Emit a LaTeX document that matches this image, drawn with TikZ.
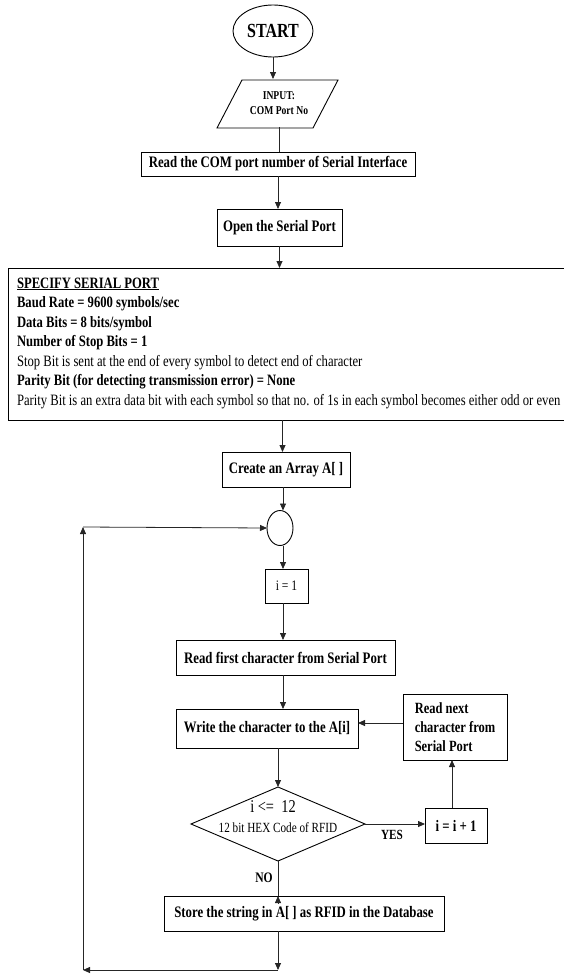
\documentclass[tikz,border=0pt]{standalone}
\usepackage{fontspec}
\setmainfont{Liberation Serif}[FakeStretch=0.8]
\usetikzlibrary{shapes.geometric,arrows.meta}
\begin{document}
\begin{tikzpicture}[x=1pt,y=-1pt,
  every node/.style={inner sep=0pt,outer sep=0pt},
  box/.style={draw,line width=0.9pt,rectangle,font=\fontsize{16}{19}\selectfont\bfseries},
  conn/.style={line width=0.8pt,draw=black!85},
  arr/.style={conn,-{Triangle[length=7pt,width=6pt]}},
  ln/.style={anchor=base west,font=\fontsize{15.8}{18}\selectfont},
  lnb/.style={ln,font=\fontsize{15.8}{18}\selectfont\bfseries}]
\useasboundingbox (0,0) rectangle (564,974);
% start
\node[ellipse,draw,line width=0.9pt,minimum width=80,minimum height=52,font=\fontsize{20}{22}\selectfont\bfseries] (start) at (273,31) {START};
% input parallelogram
\draw[line width=0.9pt] (242,80) -- (338,80) -- (313,128) -- (217,128) -- cycle;
\node[minimum height=48,minimum width=96,align=center,font=\fontsize{12}{15}\selectfont\bfseries] (input) at (279,103) {INPUT:\\COM Port No};
\node[box,minimum width=274,minimum height=24] (read) at (278,164) {Read the COM port number of Serial Interface};
\node[box,minimum width=125,minimum height=37] (open) at (279.5,227.5) {Open the Serial Port};
% spec box
\node[draw,line width=0.9pt,rectangle,minimum width=580,minimum height=152,anchor=north west] (spec) at (8,268) {};
\node[lnb] (s1) at (17,288) {\underline{SPECIFY SERIAL PORT}};
\node[lnb] (s2) at (17,307.5) {Baud Rate = 9600 symbols/sec};
\node[lnb] (s3) at (17,327) {Data Bits = 8 bits/symbol};
\node[lnb] (s4) at (17,346.5) {Number of Stop Bits = 1};
\node[ln] (s5) at (17,366) {Stop Bit is sent at the end of every symbol to detect end of character};
\node[lnb] (s6) at (17,385.5) {Parity Bit (for detecting transmission error) = None};
\node[ln] (s7) at (17,405) {Parity Bit is an extra data bit with each symbol so that no. of 1s in each symbol becomes either odd or even};
\node[box,minimum width=128,minimum height=35] (create) at (286,469.5) {Create an Array A[ ]};
\node[ellipse,draw,line width=0.9pt,minimum width=26,minimum height=35] (circ) at (280,528) {};
\node[box,minimum width=43,minimum height=34,font=\fontsize{14.5}{17}\selectfont] (i1) at (286.5,586) {i = 1};
\node[box,minimum width=219,minimum height=35] (rfirst) at (285.5,657.5) {Read first character from Serial Port};
\node[box,minimum width=182,minimum height=39] (write) at (267,728.5) {Write the character to the A[i]};
\node[box,minimum width=104,minimum height=66,align=left,font=\fontsize{15.6}{19}\selectfont\bfseries] (rnext) at (455,727) {Read next\\character from\\Serial Port};
\node[diamond,draw,line width=0.9pt,minimum width=174,minimum height=74] (dia) at (278,824) {};
\node[font=\fontsize{18}{20}\selectfont] (dt1) at (273,807) {i <=~~12};
\node[font=\fontsize{14}{16}\selectfont] (dt2) at (278,828) {12 bit HEX Code of RFID};
\node[box,minimum width=62,minimum height=35,font=\fontsize{16}{18}\selectfont\bfseries] (iinc) at (456,825.5) {i = i + 1};
\node[font=\fontsize{14}{16}\selectfont\bfseries] (yes) at (392,835) {YES};
\node[font=\fontsize{14.5}{16}\selectfont\bfseries] (no) at (264,878) {NO};
\node[box,minimum width=280,minimum height=35] (store) at (304,913.5) {Store the string in A[ ] as RFID in the Database};
\coordinate (b1) at (278,970);
\coordinate (b2) at (83,970);
\coordinate (b3) at (83,527);
% connectors
\draw[arr] (start) -- (start.south |- input.north);
\draw[conn] (input.south) -- (input.south |- read.north);
\draw[arr] (read.south) -- (read.south |- open.north);
\draw[arr] (open.south) -- (open.south |- spec.north);
\draw[arr] ([xshift=3pt]open.south |- spec.south) -- ([xshift=3pt]open.south |- create.north);
\draw[arr] ([xshift=-3pt]create.south) -- ([xshift=-3pt]create.south |- circ.north);
\draw[arr] (circ.south -| 283,0) -- (i1.north -| 283,0);
\draw[arr] (i1.south -| 283,0) -- (rfirst.north -| 283,0);
\draw[arr] (rfirst.south -| 283,0) -- (write.north -| 283,0);
\draw[arr] (rnext.west |- 0,723) -- (write.east |- 0,723);
\draw[arr] (write.south -| dia.north) -- (dia.north);
\draw[arr] (dia.east) -- (iinc.west |- dia.east);
\draw[arr] (iinc.north -| 452,0) -- (rnext.south -| 452,0);
\draw[conn] (dia.south) -- (dia.south |- store.north);
\draw[arr] ([yshift=-8pt]dia.south |- store.north) -- (dia.south |- store.north);
\draw[arr] (store.south -| b1) -- (b1);
\draw[arr] (b1) -- (b2);
\draw[arr] (b2) -- (b3);
\draw[arr] (b3) -- (circ.west);
\end{tikzpicture}
\end{document}
